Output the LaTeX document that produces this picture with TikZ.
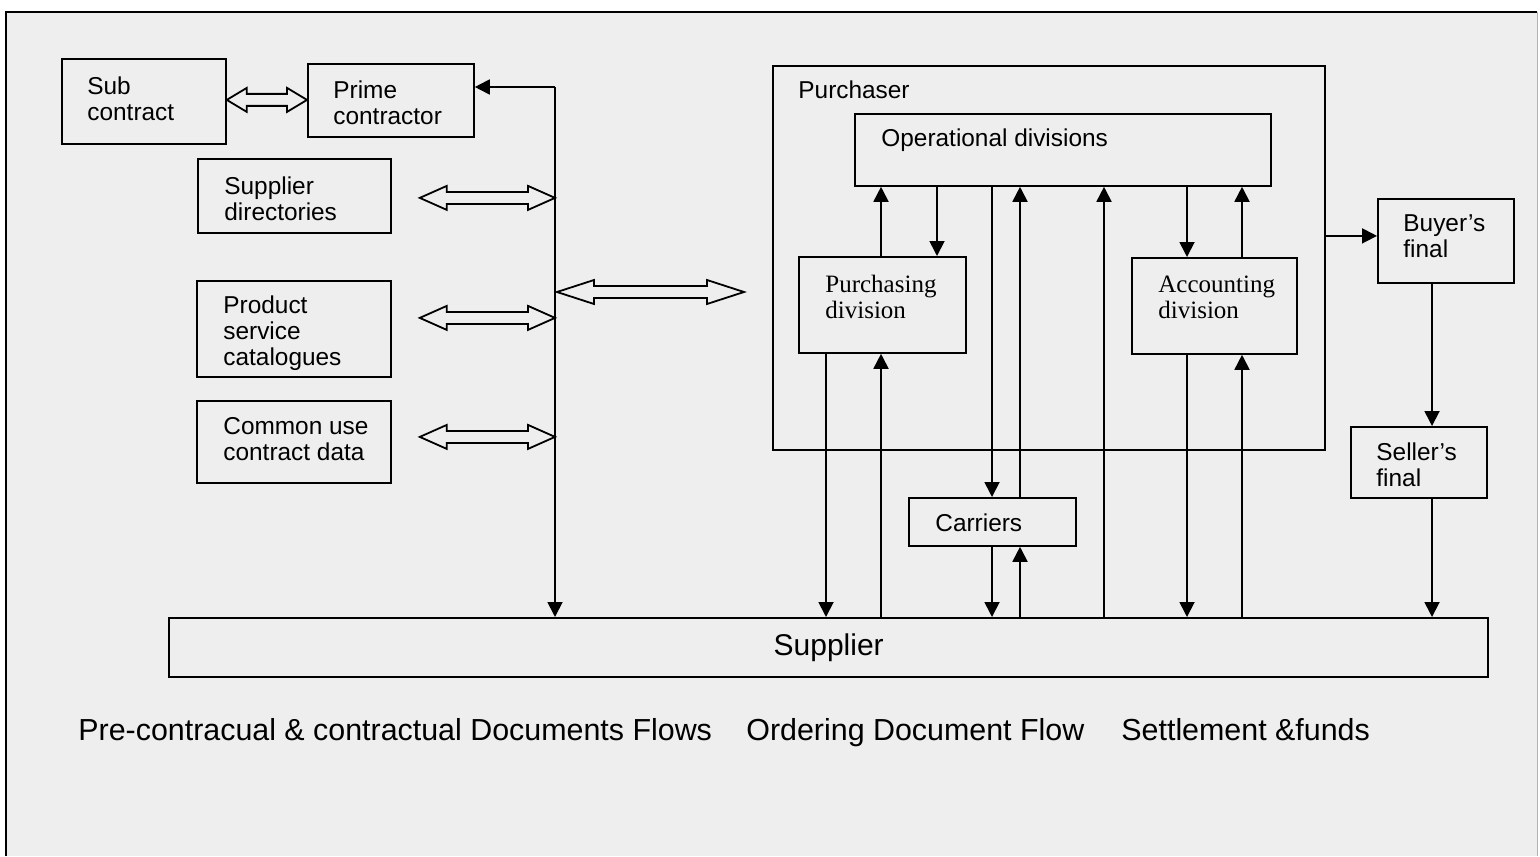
\documentclass[tikz,border=0pt]{standalone}
\usepackage{fontspec}
\setmainfont{Liberation Sans}
\newfontfamily\seriffam{Liberation Serif}
\usetikzlibrary{arrows.meta,calc}
\definecolor{bgc}{RGB}{238,238,238}
\newcommand\hollowDA[3]{%
  \path[hollow] (#1) -- ++(#3,-12) -- ++(0,6) -- ($(#2)+(-#3,-6)$) -- ++(0,-6) -- (#2)
     -- ++(-#3,12) -- ++(0,-6) -- ($(#1)+(#3,6)$) -- ++(0,6) -- cycle;}
\begin{document}
\begin{tikzpicture}[x=0.5pt,y=-0.5pt,
  box/.style={draw, line width=0.9pt, rectangle, anchor=north west, inner sep=0pt},
  txt/.style={inner sep=0pt, anchor=north west, align=left, font=\fontsize{12.2}{13}\selectfont},
  stxt/.style={inner sep=0pt, anchor=north west, align=left, font=\seriffam\fontsize{12.5}{13}\selectfont},
  captxt/.style={inner sep=0pt, anchor=base west, font=\fontsize{15.2}{18}\selectfont},
  ln/.style={line width=0.9pt},
  arr/.style={line width=0.9pt, -{Triangle[length=7.5pt,width=7.5pt]}},
  hollow/.style={draw, line width=0.9pt, fill=bgc, line join=miter}
]
\useasboundingbox (0,0) rectangle (1540,856);
\fill[white] (0,0) rectangle (1540,856);
\fill[bgc] (6,12) rectangle (1537,856);
\draw[ln] (6,856) -- (6,12) -- (1537,12);
\draw[gray!60] (1537,12) -- (1537,856);

% left group
\node[box, minimum width=82pt, minimum height=42.5pt] (sub) at (61,58) {};
\node[txt] (subt) at (87,76) {Sub\\contract};
\node[box, minimum width=83pt, minimum height=36.5pt] (prime) at (307,63) {};
\node[txt] (primet) at (333,80) {Prime\\contractor};
\node[box, minimum width=96.5pt, minimum height=37pt] (supdir) at (197,158) {};
\node[txt] (supdirt) at (224,176) {Supplier\\directories};
\node[box, minimum width=97pt, minimum height=48pt] (prod) at (196,280) {};
\node[txt] (prodt) at (223,295) {Product\\service\\catalogues};
\node[box, minimum width=97pt, minimum height=41pt] (common) at (196,400) {};
\node[txt] (commont) at (223,417) {Common use\\contract data};

% purchaser
\node[box, minimum width=276pt, minimum height=192pt] (purchaser) at (772,65) {};
\node[txt] (purchlbl) at (798,80) {Purchaser};
\node[box, minimum width=208pt, minimum height=36pt] (ops) at (854,113) {};
\node[txt] (opst) at (881,128) {Operational divisions};
\node[box, minimum width=83.5pt, minimum height=48pt] (purch) at (798,256) {};
\node[stxt] (purcht) at (825,275) {Purchasing\\division};
\node[box, minimum width=82.5pt, minimum height=48pt] (acct) at (1131,257) {};
\node[stxt] (acctt) at (1158,276) {Accounting\\division};

\node[box, minimum width=83.5pt, minimum height=24pt] (carr) at (908,497) {};
\node[txt] (carrt) at (935,513) {Carriers};
\node[box, minimum width=68pt, minimum height=42pt] (buyer) at (1377,198) {};
\node[txt] (buyert) at (1403,214) {Buyer's\\final};
\node[box, minimum width=68pt, minimum height=35.5pt] (seller) at (1350,426) {};
\node[txt] (sellert) at (1376,442) {Seller's\\final};

\node[box, line width=1.2pt, minimum width=659.5pt, minimum height=29.5pt,
      font=\fontsize{15}{18}\selectfont] (sup) at (168,617) {Supplier};

% captions
\node[captxt] (c1) at (78,740) {Pre-contracual \& contractual Documents Flows};
\node[captxt] (c2) at (746,740) {Ordering Document Flow};
\node[captxt] (c3) at (1121,740) {Settlement \&funds};

% bus
\coordinate (busT) at (555,87);
\draw[arr] (busT) -- (prime.east |- busT);
\draw[arr] (busT) -- (sup.north -| busT);

% hollow double arrows
\coordinate (sa) at ($(sub.east)+(0,-1.5)$);
\coordinate (pa) at (prime.west |- sa);
\hollowDA{sa}{pa}{20}
\coordinate (d1) at ($(supdir.east)+(28,2)$);
\coordinate (e1) at (d1 -| busT);
\hollowDA{d1}{e1}{27}
\coordinate (d2) at ($(prod.east)+(28,-11)$);
\coordinate (e2) at (d2 -| busT);
\hollowDA{d2}{e2}{27}
\coordinate (d3) at ($(common.east)+(28,-5)$);
\coordinate (e3) at (d3 -| busT);
\hollowDA{d3}{e3}{27}
\coordinate (m1) at (557,292);
\coordinate (m2) at ($(purchaser.west |- m1)+(-28,0)$);
\hollowDA{m1}{m2}{37}

% vertical x positions
\coordinate (x826) at (826,0);
\coordinate (x881) at (881,0);
\coordinate (x937) at (937,0);
\coordinate (x992) at (992,0);
\coordinate (x1020) at (1020,0);
\coordinate (x1104) at (1104,0);
\coordinate (x1187) at (1187,0);
\coordinate (x1242) at (1242,0);
\coordinate (x1432) at (1432,0);
\coordinate (bya) at ($(buyer.west)+(0,-5)$);

\draw[arr] (purch.north -| x881) -- (ops.south -| x881);
\draw[arr] (ops.south -| x937) -- (purch.north -| x937);
\draw[arr] (ops.south -| x1187) -- (acct.north -| x1187);
\draw[arr] (acct.north -| x1242) -- (ops.south -| x1242);
\draw[arr] (ops.south -| x992) -- (carr.north -| x992);
\draw[arr] (carr.north -| x1020) -- (ops.south -| x1020);
\draw[arr] (sup.north -| x1104) -- (ops.south -| x1104);
\draw[arr] (purch.south -| x826) -- (sup.north -| x826);
\draw[arr] (sup.north -| x881) -- (purch.south -| x881);
\draw[arr] (acct.south -| x1187) -- (sup.north -| x1187);
\draw[arr] (sup.north -| x1242) -- (acct.south -| x1242);
\draw[arr] (carr.south -| x992) -- (sup.north -| x992);
\draw[arr] (sup.north -| x1020) -- (carr.south -| x1020);
\draw[arr] (purchaser.east |- bya) -- (bya);
\draw[arr] (buyer.south -| x1432) -- (seller.north -| x1432);
\draw[arr] (seller.south -| x1432) -- (sup.north -| x1432);
\end{tikzpicture}
\end{document}
